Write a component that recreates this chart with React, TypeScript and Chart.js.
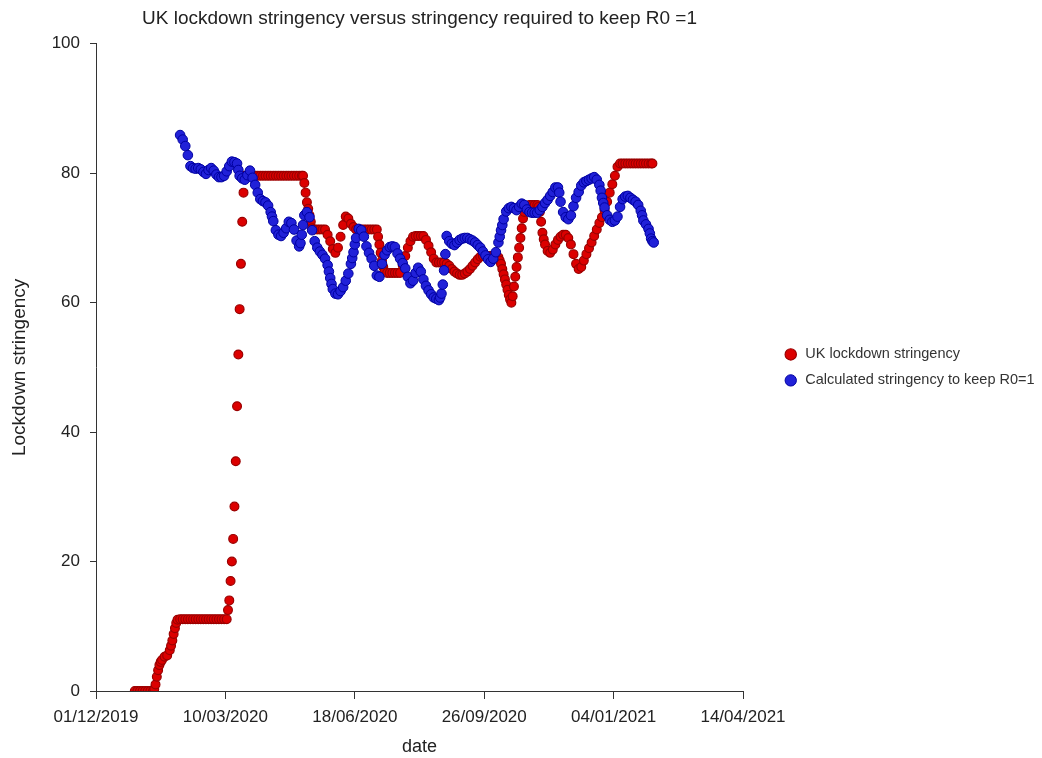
import { useEffect, useRef } from 'react';
import { Chart, registerables } from 'chart.js';

Chart.register(...registerables);

const FONT = "'Liberation Sans', Arial, sans-serif";
const TITLE = 'UK lockdown stringency versus stringency required to keep R0 =1';
const X_TITLE = 'date';
const Y_TITLE = 'Lockdown stringency';
const SERIES_NAMES = ['UK lockdown stringency', 'Calculated stringency to keep R0=1'];
// x axis: days since 01/12/2019
const X_TICK_DAYS = [0, 100, 200, 300, 400, 500];
const X_TICK_LABELS = ['01/12/2019', '10/03/2020', '18/06/2020', '26/09/2020', '04/01/2021', '14/04/2021'];
const Y_TICKS = [0, 20, 40, 60, 80, 100];

// [day since 01/12/2019, stringency]
const ukStringency: [number, number][] = [
  [30, 0], [32, 0], [34, 0], [36, 0], [38, 0], [40, 0], [42, 0], [44, 0], [45, 0.3], [46, 1], [47, 2.2], [48, 3.2],
  [49, 4], [50, 4.5], [51, 4.8], [53, 5.3], [55, 5.5], [57, 6.3], [58, 7], [59, 7.8], [60, 8.8], [61, 9.7], [62, 10.5], [63, 11],
  [65, 11.1], [67, 11.1], [69, 11.1], [71, 11.1], [73, 11.1], [75, 11.1], [77, 11.1], [79, 11.1], [81, 11.1], [83, 11.1],
  [85, 11.1], [87, 11.1], [89, 11.1], [91, 11.1], [93, 11.1], [95, 11.1], [97, 11.1], [99, 11.1], [101, 11.1],
  [102, 12.5], [103, 14], [104, 17], [105, 20], [106, 23.5], [107, 28.5], [108, 35.5], [109, 44], [110, 52], [111, 59],
  [112, 66], [113, 72.5], [114, 77], [115, 79.6],
  [117, 79.6], [119, 79.6], [121, 79.6], [123, 79.6], [125, 79.6], [127, 79.6], [129, 79.6], [131, 79.6], [133, 79.6],
  [135, 79.6], [137, 79.6], [139, 79.6], [141, 79.6], [143, 79.6], [145, 79.6], [147, 79.6], [149, 79.6], [151, 79.6],
  [153, 79.6], [155, 79.6], [157, 79.6], [159, 79.6], [160, 79.6],
  [161, 78.5], [162, 77], [163, 75.5], [164, 74.5], [165, 73.5], [166, 72.5], [167, 71.5], [169, 71.3], [171, 71.3],
  [173, 71.3], [175, 71.3], [177, 71.3], [179, 70.5], [181, 69.5], [183, 68.3], [185, 67.7], [187, 68.5], [189, 70.2],
  [191, 72], [193, 73.3], [195, 73], [197, 72.2], [199, 71.7], [201, 71.3], [203, 71.3], [205, 71.3], [207, 71.3],
  [209, 71.3], [211, 71.3], [213, 71.3], [215, 71.3], [217, 71.3], [218, 70.2], [219, 69], [220, 67.7], [221, 66.5],
  [222, 65.5], [223, 64.8], [225, 64.6], [227, 64.6], [229, 64.6], [231, 64.6], [233, 64.6], [235, 64.6],
  [237, 65.8], [239, 67.2], [241, 68.5], [243, 69.5], [245, 70.2], [247, 70.3], [249, 70.3], [251, 70.3], [253, 70.3],
  [255, 69.7], [257, 68.8], [259, 67.8], [261, 66.8], [263, 66.2], [265, 66.2], [267, 66.2], [269, 66.2], [271, 66],
  [273, 65.7], [275, 65.2], [277, 64.8], [279, 64.5], [281, 64.3], [283, 64.3], [285, 64.5], [287, 64.8], [289, 65.2],
  [291, 65.7], [293, 66.2], [295, 66.7], [297, 67.1], [299, 67.2], [301, 67.2], [303, 67.2], [305, 67.2], [307, 67.2],
  [309, 67.2], [311, 67], [312, 66.5], [313, 66], [314, 65.2], [315, 64.4], [316, 63.6], [317, 62.8], [318, 62],
  [319, 61.2], [320, 60.5], [321, 60], [322, 61], [323, 62.5], [324, 64], [325, 65.5], [326, 67], [327, 68.5], [328, 70],
  [329, 71.5], [330, 73], [331, 74], [333, 74.8], [335, 75.1], [337, 75.1], [339, 75.1], [341, 75.1], [342, 74.8],
  [343, 74], [344, 72.5], [345, 70.8], [346, 69.8], [347, 69], [349, 68], [351, 67.7], [353, 68.2], [355, 69], [357, 69.7],
  [359, 70.2], [361, 70.5], [363, 70.5], [365, 70], [367, 69], [369, 67.5], [371, 66], [373, 65.2], [375, 65.5],
  [377, 66.5], [379, 67.5], [381, 68.4], [383, 69.3], [385, 70.3], [387, 71.3], [389, 72.3], [391, 73.2], [393, 74.3],
  [395, 75.6], [397, 77], [399, 78.3], [401, 79.6], [403, 81], [405, 81.5], [407, 81.5], [409, 81.5], [411, 81.5],
  [413, 81.5], [415, 81.5], [417, 81.5], [419, 81.5], [421, 81.5], [423, 81.5], [425, 81.5], [427, 81.5], [429, 81.5],
  [430, 81.5],
];

const requiredStringency: [number, number][] = [
  [65, 85.9], [67, 85.2], [69, 84.2], [71, 82.8], [73, 81.1], [75, 80.8], [77, 80.7], [79, 80.8], [81, 80.6], [83, 80.2],
  [85, 79.9], [87, 80.5], [89, 80.8], [91, 80.4], [93, 79.8], [95, 79.4], [97, 79.4], [99, 79.6], [101, 80.3], [103, 81.1],
  [105, 81.8], [107, 81.7], [109, 81.5], [110, 80.5], [111, 79.6], [113, 79.2], [115, 79], [117, 79.7], [119, 80.4],
  [121, 79.3], [123, 78.2], [125, 77], [127, 76], [129, 75.7], [131, 75.5], [133, 75], [135, 74], [136, 73.3], [137, 72.6],
  [139, 71.2], [141, 70.5], [143, 70.3], [145, 70.8], [147, 71.5], [149, 72.5], [151, 72.3], [153, 71.3], [155, 69.6],
  [157, 68.7], [158, 69.2], [159, 70.5], [160, 72], [161, 73.5], [163, 74], [165, 73.2], [167, 71.2], [169, 69.5],
  [171, 68.5], [173, 67.9], [175, 67.4], [177, 66.8], [179, 65.8], [180, 64.8], [181, 63.8], [182, 62.9], [183, 62.1],
  [185, 61.4], [187, 61.3], [189, 61.8], [191, 62.4], [193, 63.4], [195, 64.5], [197, 66], [198, 66.9], [199, 67.8],
  [200, 69], [201, 70], [203, 71.4], [205, 71.2], [207, 70.2], [209, 68.7], [211, 67.7], [213, 66.8], [215, 65.7],
  [217, 64.2], [219, 64], [221, 66], [223, 67.4], [225, 68.1], [227, 68.6], [229, 68.7], [231, 68.6], [233, 67.6],
  [235, 66.8], [237, 66.1], [239, 65.3], [241, 64], [243, 63], [245, 63.4], [247, 64.6], [249, 65.4], [251, 64.8],
  [253, 63.6], [255, 62.6], [257, 61.9], [259, 61.3], [261, 60.8], [263, 60.6], [265, 60.4], [266, 60.8], [267, 61.4],
  [268, 62.8], [269, 65], [270, 67.5], [271, 70.3], [273, 69.5], [275, 69.1], [277, 68.9], [279, 69.3], [281, 69.7],
  [283, 69.9], [285, 70], [287, 70], [289, 69.8], [291, 69.6], [293, 69.3], [295, 68.9], [297, 68.5], [299, 67.9],
  [301, 67.3], [303, 66.7], [305, 66.3], [307, 66.8], [309, 67.8], [311, 69.3], [312, 70.2], [313, 71.2], [314, 72],
  [315, 72.9], [317, 74.1], [319, 74.6], [321, 74.8], [323, 74.6], [325, 74.3], [327, 74.8], [329, 75.3], [331, 75.1],
  [333, 74.4], [335, 74], [337, 73.9], [339, 73.9], [341, 73.9], [343, 74.3], [345, 74.8], [347, 75.4], [349, 75.9],
  [351, 76.5], [353, 77.1], [355, 77.8], [357, 77.8], [358, 77], [359, 75.6], [361, 74], [363, 73.2], [365, 72.9],
  [367, 73.5], [369, 74.9], [371, 76.2], [373, 77.1], [375, 78.1], [377, 78.6], [379, 78.8], [381, 79], [383, 79.2],
  [385, 79.4], [387, 79], [389, 78.2], [390, 77.3], [391, 76.2], [392, 75.4], [393, 74.7], [395, 73.5], [397, 72.8],
  [399, 72.5], [401, 72.7], [403, 73.3], [405, 74.8], [407, 76], [409, 76.4], [411, 76.5], [413, 76.2], [415, 75.9],
  [417, 75.6], [419, 75.1], [421, 74.2], [422, 73.5], [423, 72.7], [425, 72.1], [427, 71.4], [428, 70.7], [429, 69.9],
  [430, 69.5], [431, 69.3],
];

const LEGEND_WIDTH = 270;
const SPACER_WIDTH = 29;

const legendWidthPlugin = {
  id: 'legendWidth',
  beforeLayout(chart: any) {
    const lg = chart.legend;
    if (lg && !lg.__fixedWidth) {
      const orig = lg.fit.bind(lg);
      lg.fit = function () {
        orig();
        this.width = LEGEND_WIDTH;
      };
      lg.__fixedWidth = true;
    }
  },
};

export default function App() {
  const ref = useRef<HTMLCanvasElement | null>(null);

  useEffect(() => {
    if (!ref.current) return;
    const chart = new Chart(ref.current, {
      type: 'scatter',
      data: {
        datasets: [
          {
            label: SERIES_NAMES[1],
            data: requiredStringency.map(([d, v]) => ({ x: d, y: v })),
            pointRadius: 4.8,
            pointBorderWidth: 1,
            pointBackgroundColor: '#2121d8',
            pointBorderColor: '#0000a0',
            backgroundColor: '#2121d8',
            borderColor: '#0000a0',
            showLine: false,
          },
          {
            label: SERIES_NAMES[0],
            data: ukStringency.map(([d, v]) => ({ x: d, y: v })),
            pointRadius: 4.4,
            pointBorderWidth: 1.2,
            pointBackgroundColor: '#dc0000',
            pointBorderColor: '#9a0000',
            backgroundColor: '#dc0000',
            borderColor: '#9a0000',
            showLine: false,
          },
        ],
      },
      options: {
        responsive: false,
        animation: false,
        devicePixelRatio: 1,
        events: [],
        layout: { padding: 0 },
        plugins: {
          tooltip: { enabled: false },
          title: {
            display: true,
            text: TITLE,
            fullSize: false,
            color: '#222',
            font: { family: FONT, size: 19, weight: 'normal', lineHeight: 1.2 },
            padding: { top: 7, bottom: 14 },
          },
          legend: {
            display: true,
            position: 'right',
            align: 'center',
            fullSize: false,
            reverse: true,
            labels: {
              usePointStyle: true,
              pointStyle: 'circle',
              boxWidth: 15,
              boxHeight: 8,
              padding: 11.5,
              color: '#333',
              font: { family: FONT, size: 14.5 },
            },
          },
        },
        scales: {
          x: {
            type: 'linear',
            position: 'bottom',
            min: 0,
            max: 500,
            afterBuildTicks: (s: any) => {
              s.ticks = X_TICK_DAYS.map((v) => ({ value: v }));
            },
            ticks: {
              autoSkip: false,
              maxRotation: 0,
              color: '#222',
              padding: 8,
              font: { family: FONT, size: 17 },
              callback: (v: any) => X_TICK_LABELS[X_TICK_DAYS.indexOf(Number(v))] ?? '',
            },
            grid: { display: true, drawOnChartArea: false, drawTicks: true, tickLength: 8, color: '#333' },
            border: { display: true, color: '#333', width: 1 },
            title: {
              display: true,
              text: X_TITLE,
              color: '#222',
              font: { family: FONT, size: 18, lineHeight: 1.2 },
              padding: { top: 0, bottom: 0 },
            },
            afterFit: (s: any) => {
              s.height = 67;
            },
          },
          y: {
            type: 'linear',
            position: 'left',
            min: 0,
            max: 100,
            afterBuildTicks: (s: any) => {
              s.ticks = Y_TICKS.map((v) => ({ value: v }));
            },
            ticks: {
              color: '#222',
              padding: 10,
              font: { family: FONT, size: 17 },
            },
            grid: { display: true, drawOnChartArea: false, drawTicks: true, tickLength: 6, color: '#333' },
            border: { display: true, color: '#333', width: 1 },
            title: {
              display: true,
              text: Y_TITLE,
              color: '#222',
              font: { family: FONT, size: 19, lineHeight: 1.2 },
              padding: { top: 8.6, bottom: 0 },
            },
            afterFit: (s: any) => {
              s.width = 96;
            },
          },
          spacer: {
            type: 'linear',
            position: 'right',
            display: true,
            grid: { display: false },
            border: { display: false },
            ticks: { display: false },
            afterFit: (s: any) => {
              s.width = SPACER_WIDTH;
            },
          },
        },
      } as any,
      plugins: [legendWidthPlugin],
    });
    return () => chart.destroy();
  }, []);

  return (
    <div style={{ position: 'absolute', left: 0, top: 0, width: 1042, height: 758, background: '#fff' }}>
      <canvas ref={ref} width={1042} height={758} style={{ display: 'block' }} />
    </div>
  );
}
